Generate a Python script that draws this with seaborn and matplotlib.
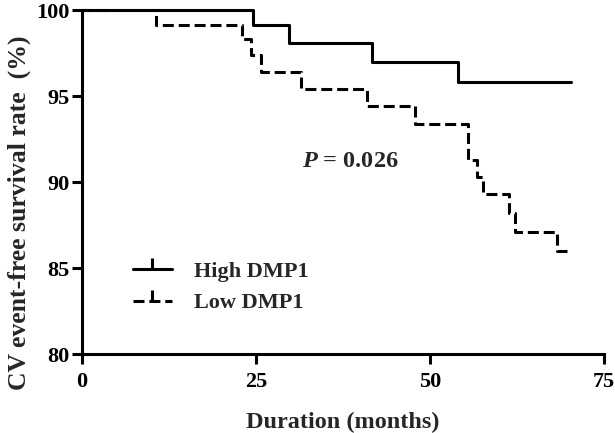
import pandas as pd
import matplotlib
matplotlib.use("Agg")
import matplotlib.pyplot as plt
import seaborn as sns
from matplotlib.lines import Line2D

# Kaplan-Meier step points
high_time = [0, 24.6, 29.8, 41.7, 54.0, 70.2]
high_surv = [100, 99.1, 98.1, 97.0, 95.8, 95.8]

low_time = [0, 10.7, 23.0, 24.3, 25.7, 31.5, 41.0, 47.8, 55.4, 56.7, 57.6,
            61.3, 62.2, 68.2, 70.2]
low_surv = [100, 99.1, 98.3, 97.4, 96.4, 95.4, 94.4, 93.4, 91.3, 90.3, 89.3,
            88.2, 87.1, 86.0, 86.0]

groups = ["High DMP1", "Low DMP1"]
x_ticks = [0, 25, 50, 75]
y_ticks = [80, 85, 90, 95, 100]

df = pd.concat([
    pd.DataFrame({"time": high_time, "surv": high_surv, "group": groups[0]}),
    pd.DataFrame({"time": low_time, "surv": low_surv, "group": groups[1]}),
])

sns.set_style("ticks")
plt.rcParams["font.family"] = ["Liberation Serif", "DejaVu Serif"]
plt.rcParams["font.weight"] = "bold"
plt.rcParams["mathtext.fontset"] = "custom"
plt.rcParams["mathtext.it"] = "Liberation Serif:italic:bold"
plt.rcParams["mathtext.rm"] = "Liberation Serif:bold"

fig = plt.figure(figsize=(6.15, 4.33), dpi=100)
ax = fig.add_axes([82 / 615, (433 - 354) / 433, 522 / 615, 344 / 433])

lw = 2.2
dash = (3.6, 1.6)
sns.lineplot(data=df, x="time", y="surv", style="group", estimator=None,
             dashes={groups[0]: "", groups[1]: dash}, color="black",
             linewidth=lw, drawstyle="steps-post", legend=False, ax=ax,
             sort=False)
for ln in ax.get_lines():
    ln.set_clip_on(False)

ax.set_xlim(0, 75)
ax.set_ylim(80, 100)
ax.set_xticks(x_ticks)
ax.set_yticks(y_ticks)
ax.tick_params(axis="both", width=lw, length=7, labelsize=16, pad=2,
               color="black", labelcolor="black")
ax.tick_params(axis="x", pad=6)
for lab in ax.get_xticklabels() + ax.get_yticklabels():
    lab.set_fontweight("bold")
for side in ["top", "right"]:
    ax.spines[side].set_visible(False)
for side in ["left", "bottom"]:
    ax.spines[side].set_linewidth(lw)
    ax.spines[side].set_color("black")

ax.set_xlabel("Duration (months)", fontsize=17.5, fontweight="bold", labelpad=14)
ax.set_ylabel("CV event-free survival rate  (%)", fontsize=18.5,
              fontweight="bold")
ax.yaxis.set_label_coords(-0.098, 0.41)

ax.text(31.6, 91.2, r"$\it{P}$ = 0.026", fontsize=17.5, fontweight="bold",
        va="center", ha="left")

# legend with the censor tick pointing up, as in the reference
handles = [
    Line2D([], [], color="black", lw=lw, marker=2, markersize=8,
           markeredgewidth=lw),
    Line2D([], [], color="black", lw=lw, ls=(0, dash), marker=2,
           markersize=8, markeredgewidth=lw),
]
leg = ax.legend(handles, groups, loc="upper left",
                bbox_to_anchor=(0.068, 0.315), frameon=False, fontsize=16,
                handlelength=1.75, handletextpad=1.0, labelspacing=0.5,
                borderpad=0.2)
for t in leg.get_texts():
    t.set_fontweight("bold")

fig.savefig("out.png", dpi=100)
